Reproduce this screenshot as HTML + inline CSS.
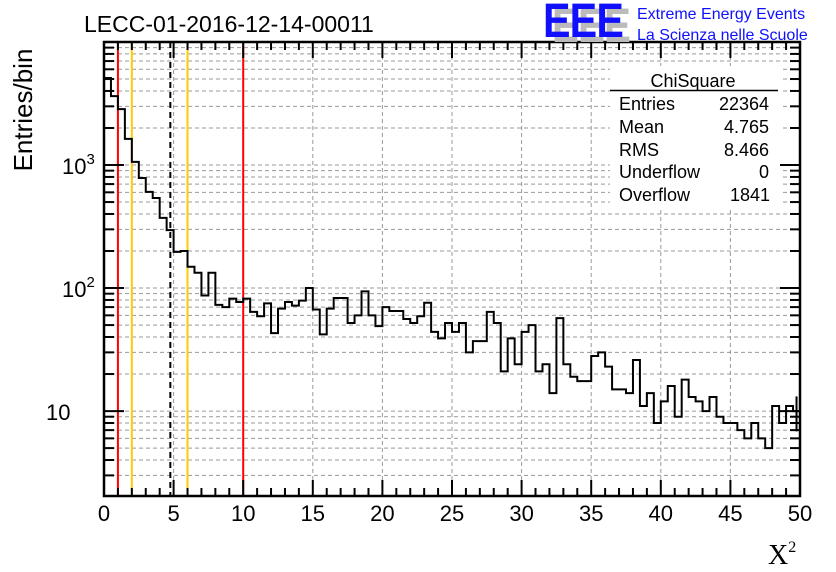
<!DOCTYPE html>
<html><head><meta charset="utf-8"><style>
body{margin:0;background:#fff}
svg{display:block;font-family:"Liberation Sans",Arial,sans-serif}
</style></head><body>
<svg id="chart" width="836" height="572" viewBox="0 0 836 572" xmlns="http://www.w3.org/2000/svg">
<rect width="836" height="572" fill="#fff"/>
<g id="grid"></g>
<g id="vlines"></g>
<g id="hist"></g>
<g id="axes"></g>
<text x="84" y="32" font-size="23">LECC-01-2016-12-14-00011</text>
<g>
<text x="552" y="42" font-size="48" font-weight="bold" fill="#bbb" letter-spacing="-1" textLength="78" lengthAdjust="spacingAndGlyphs">EEE</text>
<text x="543" y="37" font-size="48" font-weight="bold" fill="#1010ff" letter-spacing="-1" textLength="80" lengthAdjust="spacingAndGlyphs">EEE</text>
<text x="637" y="19" font-size="16" fill="#1010ff">Extreme Energy Events</text>
<text x="637" y="40" font-size="16" fill="#1010ff">La Scienza nelle Scuole</text>
</g>
<g font-size="18">
<rect x="610" y="66" width="170" height="142" fill="#fff"/>
<text x="693" y="87" text-anchor="middle">ChiSquare</text>
<line x1="610" y1="90.5" x2="778" y2="90.5" stroke="#000" stroke-width="1.5"/>
<text x="619" y="110">Entries</text><text x="769" y="110" text-anchor="end">22364</text>
<text x="619" y="133">Mean</text><text x="769" y="133" text-anchor="end">4.765</text>
<text x="619" y="156">RMS</text><text x="769" y="156" text-anchor="end">8.466</text>
<text x="619" y="178">Underflow</text><text x="769" y="178" text-anchor="end">0</text>
<text x="619" y="201">Overflow</text><text x="770" y="201" text-anchor="end">1841</text>
</g>
<text transform="translate(32,110) rotate(-90)" text-anchor="middle" font-size="26">Entries/bin</text>
<text x="768" y="564" font-family="Liberation Serif,serif" font-size="28">X<tspan font-size="16" dy="-12">2</tspan></text>
</svg>
<script>
const counts=[5100,3630,2850,1630,1060,785,605,540,372,296,197,200,149,133,87,133,73,70,82,77,82,64,59,75,43,68,77,72,79,100,67,42,68,83,83,52,60,94,60,49,70,65,65,56,52,59,76,44,39,52,44,52,30,37,37,64,52,21,39,24,44,50,21,24,14,57,24,19,17.5,17.5,28,30,23,15,15,14,26,11,14,8,12,16,9,18,13,12,10,13,9,8,8,7,6,8,6,5,11,8,11,10];
const xTicks=[0,5,10,15,20,25,30,35,40,45,50];
const yMajor=[10,100,1000];
const yMajorExp=["","2","3"];
const cutLines=[{x:1,c:"#f00"},{x:10,c:"#f00"},{x:2,c:"#fc0"},{x:6,c:"#fc0"}];
const meanVal=4.765;
const binW=0.5;
const X0=104,X1=800,Y0=496,Y1=42,xMin=0,xMax=50,yMin=2.04,yMax=10000;
const NS="http://www.w3.org/2000/svg";
function sx(v){return X0+(v-xMin)/(xMax-xMin)*(X1-X0);}
function sy(v){return Y0-(Math.log10(v)-Math.log10(yMin))/(Math.log10(yMax)-Math.log10(yMin))*(Y0-Y1);}
function mk(parent,tag,attrs){const e=document.createElementNS(NS,tag);for(const k in attrs)e.setAttribute(k,attrs[k]);(typeof parent==='string'?document.getElementById(parent):parent).appendChild(e);return e;}
for(const t of xTicks){if(t===0||t===50)continue;const l=mk('grid','line',{x1:sx(t),x2:sx(t),y1:Y1,y2:Y0,stroke:'#999','stroke-dasharray':'4,3'});

}
for(let d=1;d<=1000;d*=10){for(let m=1;m<10;m++){const v=d*m;if(v<yMin||v>=yMax)continue;const l=mk('grid','line',{x1:X0,x2:X1,y1:sy(v),y2:sy(v),stroke:'#999','stroke-dasharray':'4,3'});

}}
for(const c of cutLines){const l=mk('vlines','line',{x1:sx(c.x),x2:sx(c.x),y1:Y1,y2:Y0,stroke:c.c,'stroke-width':2});

}
const ml=mk('vlines','line',{x1:sx(meanVal),x2:sx(meanVal),y1:Y1,y2:Y0,stroke:'#000','stroke-width':2,'stroke-dasharray':'6,4'});


let d='M'+sx(0)+','+Y0;
counts.forEach((c,i)=>{const y=sy(c);d+=' L'+sx(i*binW)+','+y+' L'+sx((i+1)*binW)+','+y;});
const p=mk('hist','path',{d:d,fill:'none',stroke:'#000','stroke-width':2});


const last=counts[counts.length-1],err=Math.sqrt(last);
const eb=mk('hist','line',{x1:sx(49.75),x2:sx(49.75),y1:sy(last+err),y2:sy(last-err),stroke:'#000','stroke-width':2});


const fr=mk('axes','rect',{x:X0,y:Y1,width:X1-X0,height:Y0-Y1,fill:'none',stroke:'#000','stroke-width':2.5});


for(let v=0;v<=50;v+=1){const big=v%5===0,len=big?16:8;
mk('axes','line',{x1:sx(v),x2:sx(v),y1:Y0,y2:Y0-len,stroke:'#000','stroke-width':2});
mk('axes','line',{x1:sx(v),x2:sx(v),y1:Y1,y2:Y1+len,stroke:'#000','stroke-width':2});}
for(const t of xTicks){const tx=mk('axes','text',{x:sx(t),y:521,'text-anchor':'middle','font-size':22});tx.textContent=t;

}
for(let dd=1;dd<=1000;dd*=10){for(let m=1;m<10;m++){const v=dd*m;if(v<yMin||v>yMax)continue;const len=m===1?20:10;
mk('axes','line',{x1:X0,x2:X0+len,y1:sy(v),y2:sy(v),stroke:'#000','stroke-width':2});
mk('axes','line',{x1:X1,x2:X1-len,y1:sy(v),y2:sy(v),stroke:'#000','stroke-width':2});}}
yMajor.forEach((v,i)=>{const tx=mk('axes','text',{x:yMajorExp[i]?62:46,y:sy(v)+9,'font-size':22});tx.textContent='10';
if(yMajorExp[i]){const ts=mk(tx,'tspan',{'font-size':15,dy:-10});ts.textContent=yMajorExp[i];}

});
</script>
</body></html>
